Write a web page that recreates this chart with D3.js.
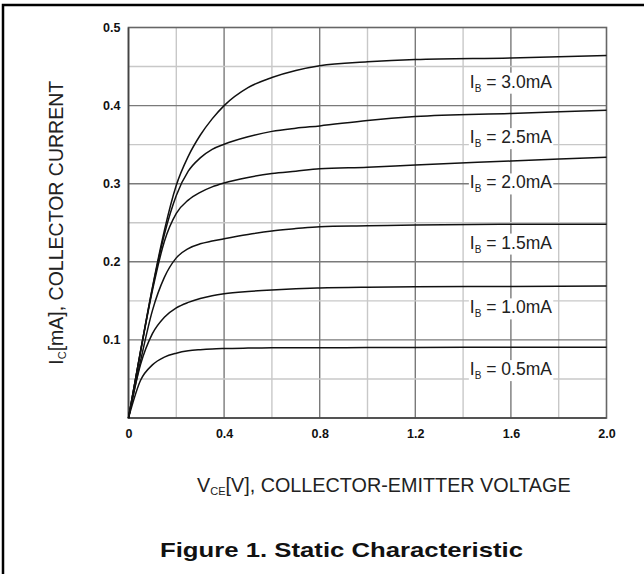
<!DOCTYPE html>
<html>
<head>
<meta charset="utf-8">
<script src="https://cdn.jsdelivr.net/npm/d3@7"></script>
<style>
  body { margin: 0; background: #fff; overflow: hidden; }
  svg { display: block; font-family: "Liberation Sans", Arial, sans-serif; }
</style>
</head>
<body>
<svg width="644" height="574"></svg>
<script>
// collector-emitter voltage samples (V)
var vce = [0, 0.05, 0.1, 0.15, 0.2, 0.25, 0.3, 0.35, 0.4, 0.5, 0.6, 0.7, 0.8, 1.0, 1.2, 1.6, 2.0];

// collector current for each base current
var ib05 = [0, 0.048, 0.068, 0.078, 0.083, 0.086, 0.0875, 0.0885, 0.089, 0.0895, 0.0898, 0.09, 0.09, 0.0902, 0.0904, 0.0906, 0.0907];
var ib10 = [0, 0.068, 0.108, 0.129, 0.141, 0.148, 0.153, 0.1565, 0.159, 0.162, 0.164, 0.1655, 0.1665, 0.1675, 0.168, 0.1685, 0.169];
var ib15 = [0, 0.0725, 0.1375, 0.180, 0.205, 0.217, 0.223, 0.2265, 0.2295, 0.235, 0.2395, 0.2425, 0.245, 0.246, 0.247, 0.248, 0.248];
var ib20 = [0, 0.084, 0.163, 0.226, 0.262, 0.279, 0.289, 0.296, 0.301, 0.308, 0.313, 0.316, 0.319, 0.321, 0.324, 0.329, 0.334];
var ib25 = [0, 0.085, 0.166, 0.235, 0.285, 0.316, 0.333, 0.344, 0.3505, 0.360, 0.367, 0.371, 0.374, 0.381, 0.386, 0.390, 0.394];
var ib30 = [0, 0.085, 0.167, 0.240, 0.298, 0.335, 0.362, 0.383, 0.400, 0.423, 0.436, 0.445, 0.451, 0.456, 0.459, 0.461, 0.464];

var seriesNames = ["0.5mA", "1.0mA", "1.5mA", "2.0mA", "2.5mA", "3.0mA"];
var seriesValues = [ib05, ib10, ib15, ib20, ib25, ib30];
// where each curve label sits (V, mA)
var labelVce = 1.6;
var labelIc = [0.063, 0.142, 0.225, 0.302, 0.36, 0.431];

var xTicks = [0, 0.4, 0.8, 1.2, 1.6, 2.0];
var yTicks = [0.1, 0.2, 0.3, 0.4, 0.5];
var xGrid = [0.2, 0.4, 0.6, 0.8, 1.0, 1.2, 1.4, 1.6, 1.8];
var yGrid = [0.05, 0.1, 0.15, 0.2, 0.25, 0.3, 0.35, 0.4, 0.45];

var svg = d3.select("svg");

// outer frame, only top and left edges show
svg.append("path")
   .attr("d", "M3,574V5H644")
   .attr("fill", "none")
   .attr("stroke", "#000")
   .attr("stroke-width", 2.5);

var x = d3.scaleLinear().domain([0, 2]).range([128.5, 606.5]),
    y = d3.scaleLinear().domain([0, 0.5]).range([418, 27.5]);

function isMajorX(d) { return Math.abs(d / 0.4 - Math.round(d / 0.4)) < 1e-6; }
function isMajorY(d) { return Math.abs(d / 0.1 - Math.round(d / 0.1)) < 1e-6; }

// grid
svg.append("g").selectAll("line")
   .data(xGrid)
   .enter().append("line")
   .attr("x1", function(d) { return x(d); })
   .attr("x2", function(d) { return x(d); })
   .attr("y1", y(0)).attr("y2", y(0.5))
   .attr("stroke", function(d) { return isMajorX(d) ? "#7a7a7a" : "#c8c8c8"; })
   .attr("stroke-width", 1.4);

svg.append("g").selectAll("line")
   .data(yGrid)
   .enter().append("line")
   .attr("y1", function(d) { return y(d); })
   .attr("y2", function(d) { return y(d); })
   .attr("x1", x(0)).attr("x2", x(2))
   .attr("stroke", function(d) { return isMajorY(d) ? "#7a7a7a" : "#c8c8c8"; })
   .attr("stroke-width", 1.4);

// plot frame
svg.append("rect")
   .attr("x", x(0)).attr("y", y(0.5))
   .attr("width", x(2) - x(0)).attr("height", y(0) - y(0.5))
   .attr("fill", "none")
   .attr("stroke", "#666")
   .attr("stroke-width", 1.6);
svg.append("path")
   .attr("d", "M" + x(0) + "," + y(0.5) + "V" + y(0) + "H" + x(2))
   .attr("fill", "none")
   .attr("stroke", "#444")
   .attr("stroke-width", 1.6);

// axes (labels only)
var xAxis = svg.append("g")
   .attr("transform", "translate(0," + y(0) + ")")
   .call(d3.axisBottom(x).tickValues(xTicks).tickSize(0).tickPadding(11)
     .tickFormat(function(d) { return d === 0 ? "0" : d3.format(".1f")(d); }));
var yAxis = svg.append("g")
   .attr("transform", "translate(" + x(0) + ",0)")
   .call(d3.axisLeft(y).tickValues(yTicks).tickSize(0).tickPadding(8)
     .tickFormat(d3.format(".1f")));
[xAxis, yAxis].forEach(function(a) {
  a.select(".domain").remove();
  a.selectAll("text")
   .attr("font-family", "\"Liberation Sans\", Arial, sans-serif")
   .attr("font-size", 12.5)
   .attr("font-weight", "bold")
   .attr("fill", "#111");
});

// curves
var line = d3.line()
   .x(function(d, i) { return x(vce[i]); })
   .y(function(d) { return y(d); })
   .curve(d3.curveMonotoneX);

svg.append("g").selectAll("path")
   .data(seriesValues)
   .enter().append("path")
   .attr("d", line)
   .attr("fill", "none")
   .attr("stroke", "#111")
   .attr("stroke-width", 1.5);

// curve labels with white backing
var lab = svg.append("g").selectAll("g")
   .data(seriesNames)
   .enter().append("g");

lab.append("rect").attr("fill", "#fff");

var lt = lab.append("text")
   .attr("x", x(labelVce))
   .attr("y", function(d, i) { return y(labelIc[i]); })
   .attr("dy", "0.36em")
   .attr("text-anchor", "middle")
   .attr("font-size", 17.5)
   .attr("fill", "#222");
lt.append("tspan").text("I");
lt.append("tspan").attr("font-size", 10).attr("dy", 4).text("B");
lt.append("tspan").attr("dy", -4).text(" = ");
lt.append("tspan").text(function(d) { return d; });

lab.each(function() {
  var g = d3.select(this),
      b = g.select("text").node().getBBox();
  g.select("rect")
   .attr("x", b.x - 1).attr("y", b.y + 1)
   .attr("width", b.width + 2).attr("height", b.height - 1);
});

// axis titles
var yt = svg.append("text")
   .attr("transform", "translate(63," + ((y(0) + y(0.5)) / 2) + ") rotate(-90)")
   .attr("text-anchor", "middle")
   .attr("font-size", 19.5)
   .attr("fill", "#222");
yt.append("tspan").text("I");
yt.append("tspan").attr("font-size", 11).attr("dy", 3).text("C");
yt.append("tspan").attr("dy", -3).text("[mA], COLLECTOR CURRENT");

var xt = svg.append("text")
   .attr("x", 197).attr("y", 491.5)
   .attr("font-size", 19.8)
   .attr("fill", "#222");
xt.append("tspan").text("V");
xt.append("tspan").attr("font-size", 11).attr("dy", 3).text("CE");
xt.append("tspan").attr("dy", -3).text("[V], COLLECTOR-EMITTER VOLTAGE");

// figure caption
svg.append("text")
   .attr("x", 160).attr("y", 557)
   .attr("font-size", 21)
   .attr("font-weight", "bold")
   .attr("fill", "#111")
   .attr("textLength", 363)
   .attr("lengthAdjust", "spacingAndGlyphs")
   .text("Figure 1. Static Characteristic");
</script>
</body>
</html>
